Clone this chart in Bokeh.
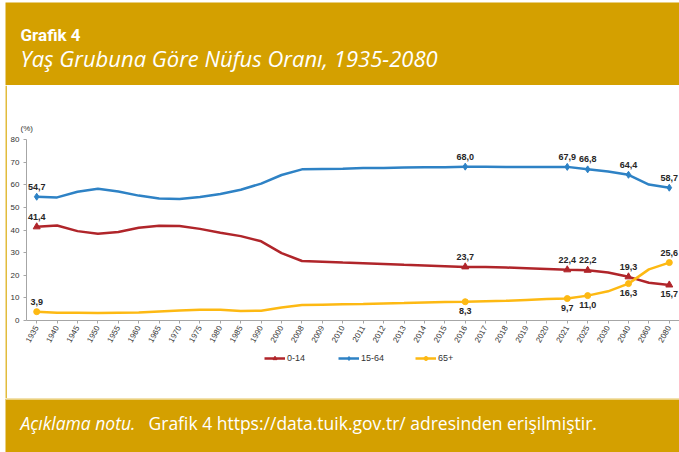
import math
from bokeh.plotting import figure
from bokeh.models import (ColumnDataSource, FactorRange, Range1d, Legend, LegendItem,
                          SingleIntervalTicker)
from bokeh.layouts import column, row
from bokeh.embed import file_html
from bokeh.resources import INLINE
from bokeh.core.properties import value

# ---------------- data ----------------
years = ["1935", "1940", "1945", "1950", "1955", "1960", "1965", "1970", "1975", "1980",
         "1985", "1990", "2000", "2008", "2009", "2010", "2011", "2012", "2013", "2014",
         "2015", "2016", "2017", "2018", "2019", "2020", "2021", "2025", "2030", "2040",
         "2060", "2080"]
age_0_14 = [41.4, 42.0, 39.5, 38.3, 39.1, 41.0, 41.9, 41.8, 40.5, 38.8,
            37.3, 35.0, 29.8, 26.3, 26.0, 25.6, 25.3, 25.0, 24.6, 24.3,
            24.0, 23.7, 23.6, 23.4, 23.1, 22.8, 22.4, 22.2, 21.2, 19.3,
            16.7, 15.7]
age_15_64 = [54.7, 54.4, 56.9, 58.2, 57.0, 55.2, 53.9, 53.7, 54.6, 55.9,
             57.8, 60.5, 64.3, 66.8, 67.0, 67.1, 67.4, 67.4, 67.6, 67.7,
             67.7, 68.0, 68.0, 67.8, 67.8, 67.8, 67.9, 66.8, 65.9, 64.4,
             60.1, 58.7]
age_65_plus = [3.9, 3.4, 3.4, 3.3, 3.4, 3.5, 4.0, 4.4, 4.7, 4.7,
               4.2, 4.3, 5.7, 6.8, 7.0, 7.2, 7.3, 7.5, 7.7, 8.0,
               8.2, 8.3, 8.5, 8.7, 9.1, 9.5, 9.7, 11.0, 12.9, 16.3,
               22.6, 25.6]
labelled_years = ["1935", "2016", "2021", "2025", "2040", "2080"]
series_names = ["0-14", "15-64", "65+"]

header_title = "Grafik 4"
header_subtitle = "Yaş Grubuna Göre Nüfus Oranı, 1935-2080"
note_italic = "Açıklama notu."
note_text = "Grafik 4 https://data.tuik.gov.tr/ adresinden erişilmiştir."
unit_label = "(%)"

# label placement (style): "a" above, "b" below, per labelled year
place_0_14 = ["a", "a", "a", "a", "a", "b"]
place_15_64 = ["a", "a", "a", "a", "a", "a"]
place_65 = ["a", "b", "b", "b", "b", "a"]

# ---------------- style ----------------
GOLD = "#D4A000"
STRIP = "#E2BC3C"
RED = "#B0252A"
BLUE = "#2E82C5"
YELLOW = "#FDB913"
W = 679
H_HEAD, H_MID, H_FOOT = 85, 313, 54
LEFT_W = 7
H_CHART = 265
H_LEG = H_MID - H_CHART
FONT = "Roboto"
FONT2 = "Open Sans"
AX_FONT = "Liberation Sans"


def plain(width, height):
    f = figure(width=width, height=height, x_range=Range1d(0, width),
               y_range=Range1d(0, height), toolbar_location=None, output_backend="svg",
               min_border=0, x_axis_location=None, y_axis_location=None,
               outline_line_color=None, background_fill_color="white",
               border_fill_color="white")
    f.grid.visible = False
    return f


# header band
head = plain(W, H_HEAD)
head.quad(left=[5], right=[W], bottom=[0], top=[H_HEAD - 2], fill_color=GOLD, line_color=None)
head.text(x=[20], y=[H_HEAD - 34], text=[header_title], text_font=value(FONT),
          text_font_size="17px", text_font_style="bold", text_color="white",
          text_baseline="middle")
head.text(x=[20], y=[H_HEAD - 57], text=[header_subtitle], text_font=value(FONT2),
          text_font_size="22px", text_font_style="italic", text_color="white",
          text_baseline="middle")

# footer band
foot = plain(W, H_FOOT)
foot.quad(left=[5], right=[W], bottom=[0], top=[H_FOOT], fill_color=GOLD, line_color=None)
foot.line(x=[5, W], y=[H_FOOT - 0.75, H_FOOT - 0.75], line_color="#EAD07C", line_width=1.5)
foot.text(x=[20], y=[H_FOOT - 24], text=[note_italic], text_font=value(FONT2),
          text_font_size="17.5px", text_font_style="italic", text_color="white",
          text_baseline="middle")
foot.text(x=[148], y=[H_FOOT - 24], text=[note_text], text_font=value(FONT2),
          text_font_size="17.5px", text_color="white", text_baseline="middle")

# left edge with thin gold border
left = plain(LEFT_W, H_MID)
left.quad(left=[5], right=[7], bottom=[0], top=[H_MID], fill_color=STRIP, line_color=None)

# chart
p = figure(width=W - LEFT_W, height=H_CHART,
           x_range=FactorRange(factors=years, range_padding=0),
           y_range=Range1d(0, 80), toolbar_location=None, output_backend="svg",
           min_border_left=17, min_border_right=0, min_border_top=54, min_border_bottom=30,
           outline_line_color=None, background_fill_color="white", border_fill_color="white",
           title=unit_label)
p.title.align = "left"
p.title.offset = -6
p.title.standoff = 14
p.title.text_font = AX_FONT
p.title.text_font_size = "8px"
p.title.text_font_style = "normal"
p.title.text_color = "#333333"
p.grid.visible = False

src = ColumnDataSource(dict(year=years, a=age_0_14, b=age_15_64, c=age_65_plus))
idx = [years.index(y) for y in labelled_years]


def fmt(v):
    return f"{v:.1f}".replace(".", ",")


series = [
    (age_0_14, RED, "triangle", 7, place_0_14),
    (age_15_64, BLUE, "diamond", 7, place_15_64),
    (age_65_plus, YELLOW, "circle", 6, place_65),
]

# legend strip below the chart: same series drawn outside its visible y range,
# so only the legend samples show
legfig = figure(width=W - LEFT_W, height=H_LEG, x_range=FactorRange(factors=years),
                y_range=Range1d(500, 600), toolbar_location=None, output_backend="svg",
                min_border=0, x_axis_location=None, y_axis_location=None,
                outline_line_color=None, background_fill_color="white",
                border_fill_color="white")
legfig.grid.visible = False

items = []
for name, (vals, col, mk, sz, place), key in zip(series_names, series, ["a", "b", "c"]):
    p.line(x="year", y=key, source=src, line_color=col, line_width=2.5)
    pts = ColumnDataSource(dict(year=labelled_years, v=[vals[i] for i in idx]))
    p.scatter(x="year", y="v", source=pts, marker=mk, size=sz, fill_color=col,
              line_color=col)
    for where, off in (("a", -10), ("b", 9)):
        ys = [labelled_years[k] for k in range(len(idx)) if place[k] == where]
        vs = [vals[idx[k]] for k in range(len(idx)) if place[k] == where]
        if not ys:
            continue
        ls = ColumnDataSource(dict(year=ys, v=vs, t=[fmt(v) for v in vs]))
        p.text(x="year", y="v", text="t", source=ls, text_font=value(AX_FONT),
               text_font_size="9px", text_font_style="bold", text_color="#262626",
               text_align="center", text_baseline="middle", y_offset=off)
    lr = legfig.line(x="year", y=key, source=src, line_color=col, line_width=2.5)
    sr = legfig.scatter(x="year", y="v", source=pts, marker=mk, size=sz,
                        fill_color=col, line_color=col)
    items.append(LegendItem(label=name, renderers=[lr, sr]))

p.xaxis.major_label_orientation = math.pi / 3
p.yaxis.ticker = SingleIntervalTicker(interval=10)
for ax in (p.xaxis[0], p.yaxis[0]):
    ax.axis_line_color = "#A6A6A6"
    ax.major_tick_line_color = "#A6A6A6"
    ax.major_tick_out = 3
    ax.major_tick_in = 0
    ax.minor_tick_line_color = None
    ax.major_label_text_font = AX_FONT
    ax.major_label_text_font_size = "8px"
    ax.major_label_text_color = "#333333"
    ax.major_label_standoff = 3

legend = Legend(items=items, orientation="horizontal", location=(238, H_LEG - 13),
                border_line_color=None, background_fill_alpha=0,
                label_text_font=AX_FONT, label_text_font_size="9px",
                label_text_color="#333333", glyph_width=21, glyph_height=10,
                label_height=10, spacing=31, label_standoff=2, padding=2, margin=0)
legfig.add_layout(legend)

layout = column(head, row(left, column(p, legfig, spacing=0), spacing=0), foot, spacing=0)
open("out.html", "w").write(file_html(layout, INLINE))
